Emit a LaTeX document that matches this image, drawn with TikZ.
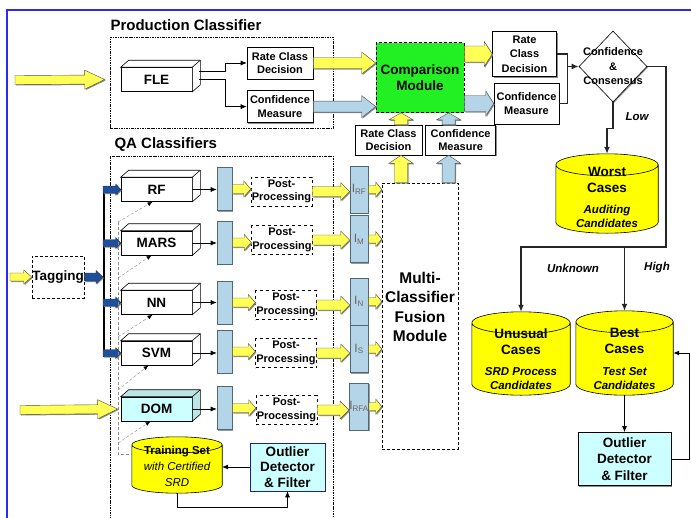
\documentclass[tikz,border=0pt]{standalone}
\usepackage{fontspec}
\setmainfont{Liberation Sans}
\usetikzlibrary{arrows.meta, shapes.geometric, positioning, calc, shadows, backgrounds}
\definecolor{fatyellow}{HTML}{FFFF55}
\definecolor{drumyellow}{HTML}{FFFF00}
\definecolor{paleblue}{HTML}{B4D5E7}
\definecolor{barline}{HTML}{4E6878}
\definecolor{navy}{HTML}{1C4F9C}
\definecolor{modgreen}{HTML}{22F022}
\definecolor{palecyan}{HTML}{CCFFFF}
\definecolor{frameblue}{HTML}{2B2BF0}
\newcommand{\lblfnt}{\fontsize{11}{13.5}\selectfont\bfseries}
\newcommand{\bigfnt}{\fontsize{13.5}{16}\selectfont\bfseries}
\newcommand{\titlefnt}{\fontsize{15}{18}\selectfont\bfseries}
\newcommand{\fusfnt}{\fontsize{15.5}{19.5}\selectfont\bfseries}
\newcommand{\itfnt}{\fontsize{11.5}{14.5}\selectfont\bfseries\itshape}
\tikzset{
    box/.style={
        draw, fill=white, line width=0.6pt, align=center, inner sep=0pt, font=\lblfnt,
        drop shadow={shadow xshift=1.2pt, shadow yshift=-1.2pt, fill=black!45, opacity=1}
    },
    cubebox/.style={
        draw, fill=white, line width=0.6pt, inner sep=0pt, font=\bigfnt,
        minimum width=71pt, minimum height=24pt
    },
    barbox/.style={
        draw=barline, fill=paleblue, line width=0.6pt, inner sep=0pt,
        minimum width=15pt, minimum height=43pt,
        drop shadow={shadow xshift=1pt, shadow yshift=-1pt, fill=black!40, opacity=1}
    },
    ibox/.style={
        barbox, minimum width=18pt, minimum height=47pt,
        font=\fontsize{12}{14}\selectfont, text=black!60
    },
    ppbox/.style={
        draw, dashed, line width=0.5pt, align=center, inner sep=0pt, font=\lblfnt,
        minimum width=61pt, minimum height=29pt
    },
    modbox/.style={
        draw, densely dashed, line width=0.6pt, align=center, inner sep=0pt
    },
    groupbox/.style={
        draw, line width=0.9pt, dash pattern=on 2.5pt off 1pt on 0.8pt off 1pt
    },
    drumbox/.style={inner sep=0pt},
    yarrow/.style={
        fill=fatyellow, draw=black!70, line width=0.4pt,
        drop shadow={shadow xshift=1pt, shadow yshift=-1pt, fill=black!45, opacity=1}
    },
    barrow/.style={yarrow, fill=paleblue},
    narrow/.style={yarrow, fill=navy, draw=black!80},
    line/.style={-{Latex[length=6pt, width=5pt]}, line width=0.6pt},
    heavy/.style={line width=1.4pt, draw=black!85},
    feedback/.style={draw=black!45, densely dashed, line width=0.4pt},
    fbarrow/.style={-{Latex[length=5pt, width=4pt, black]}},
    frameline/.style={draw=frameblue, line width=1.6pt}
}
\newcommand{\fatarrow}[6][yarrow]{%
    \coordinate (fatbase) at ($(#3)!#6!(#2)$);
    \path[#1] ($(#2)!#4!90:(#3)$) -- ($(fatbase)!#4!270:(#2)$) -- ($(fatbase)!#5!270:(#2)$) -- (#3)
        -- ($(fatbase)!#5!90:(#2)$) -- ($(fatbase)!#4!90:(#2)$) -- ($(#2)!#4!270:(#3)$) -- cycle;}
\newcommand{\cubeface}[2][white]{%
    \draw[fill=#1, line width=0.6pt] (#2.north west) -- ++(8pt,7pt) -- ($(#2.north east)+(8pt,7pt)$)
        -- ($(#2.south east)+(8pt,7pt)$) -- (#2.south east) -- (#2.north east) -- cycle;
    \draw[line width=0.6pt] (#2.north east) -- ++(8pt,7pt);}
\newcommand{\drawdrum}[3]{%
    \filldraw[fill=#2, line width=0.6pt] let \p1=(#1.north west), \p2=(#1.south east), \n1={(\x2-\x1)/2} in
        (\x1,\y1-#3) -- (\x1,\y2+#3) arc[start angle=180, end angle=360, x radius={\n1*1pt}, y radius=#3]
        -- (\x2,\y1-#3) arc[start angle=0, end angle=180, x radius={\n1*1pt}, y radius=#3] -- cycle
        (\x1,\y1-#3) arc[start angle=180, end angle=360, x radius={\n1*1pt}, y radius=#3];}

\begin{document}
\begin{tikzpicture}[x=1pt, y=-1pt]
    \useasboundingbox (0,0) rectangle (691,517);
    \draw[frameline] (7,530) -- (7,10) -- (700,10);

    \node[anchor=west, font=\titlefnt] (prodtitle) at (107,25) {Production Classifier};
    \node[anchor=west, font=\titlefnt] (qatitle) at (111,145) {QA Classifiers};
    \node[groupbox, minimum width=223pt, minimum height=91pt] (prodbox) at (221.5,82.5) {};
    \node[groupbox, minimum width=223pt, minimum height=380pt] (qabox) at (221.5,346) {};

    % production classifier
    \node[cubebox] (fle) at (156.5,79.5) {FLE};
    \cubeface{fle}
    \node[box, minimum width=66pt, minimum height=32pt] (prd) at (280,63) {Rate Class\\Decision};
    \node[box, minimum width=66pt, minimum height=32pt, below=11pt of prd] (pcm) {Confidence\\Measure};
    \coordinate (fleA) at ($(fle.east)+(7pt,8pt)$);
    \coordinate (fleB) at ($(fle.east)+(7pt,0pt)$);
    \draw[line] (fleA) -- ++(26pt,0) |- (prd.west);
    \draw[line] (fleB) -- ++(26pt,0) |- (pcm.west);
    \coordinate (src1) at (15,80);
    \coordinate (in1) at ($(fle.west)+(-16pt,0)$);
    \fatarrow{src1}{in1}{4.5pt}{9.5pt}{20pt}

    \node[modbox, fill=modgreen, minimum width=88pt, minimum height=70pt, font=\bigfnt] (cmp) at (420,77.5) {Comparison\\Module};
    \fatarrow{prd.east}{cmp.west |- prd.east}{5.5pt}{11pt}{14pt}
    \fatarrow[barrow]{pcm.east}{cmp.west |- pcm.east}{5.5pt}{11pt}{14pt}

    \node[box, minimum width=64pt, minimum height=45pt, font=\fontsize{11}{14.5}\selectfont\bfseries] (rrd) at (524.5,54) {Rate\\Class\\Decision};
    \node[box, minimum width=65pt, minimum height=41pt] (rcm) at (526.5,103.5) {Confidence\\Measure};
    \fatarrow{cmp.east |- rrd.west}{rrd.west}{8pt}{12.5pt}{8pt}
    \fatarrow[barrow]{cmp.east |- rcm.west}{rcm.west}{8pt}{12.5pt}{8pt}

    \node[diamond, draw, fill=white, line width=0.6pt, minimum width=68pt, minimum height=71pt, inner sep=0pt,
        drop shadow={shadow xshift=1pt, shadow yshift=-1pt, fill=black!45, opacity=1}] (cc) at (613,66.5) {};
    \node[font=\fontsize{11}{14.5}\selectfont\bfseries, align=center] (cctext) at (cc) {Confidence\\\&\\Consensus};
    \coordinate (ccin) at ($(cc.west)+(-11pt,0)$);
    \draw[heavy] (rrd.east) -| (ccin);
    \draw[heavy] (rcm.east) -| (ccin);
    \draw[heavy, -{Latex[length=7pt, width=6pt]}] (ccin) -- (cc.west);

    % result data sets
    \node[drumbox, minimum width=102pt, minimum height=79pt] (worst) at (607,193.5) {};
    \node[font=\bigfnt, align=center, below=10pt of worst.north] (worsttitle) {Worst\\Cases};
    \node[font=\itfnt, align=center, above=2pt of worst.south] (worstsub) {Auditing\\Candidates};
    \node[drumbox, minimum width=98pt, minimum height=83pt] (unus) at (521,353.5) {};
    \node[font=\bigfnt, align=center, below=13pt of unus.north] (unustitle) {Unusual\\Cases};
    \node[font=\itfnt, align=center, above=2pt of unus.south] (unussub) {SRD Process\\Candidates};
    \node[drumbox, minimum width=97pt, minimum height=84pt] (best) at (624.5,353) {};
    \node[font=\bigfnt, align=center, below=14pt of best.north] (besttitle) {Best\\Cases};
    \node[font=\itfnt, align=center, above=2pt of best.south] (bestsub) {Test Set\\Candidates};

    \draw[heavy, -{Latex[length=7pt, width=6pt]}] (cc.south) -- ++(0,-26pt) -| (worst.north);
    \coordinate (split) at (666,247);
    \draw[heavy, -{Latex[length=7pt, width=6pt]}] (cc.east) -| (split) -| (unus.north);
    \draw[heavy, -{Latex[length=7pt, width=6pt]}] (best.north |- split) -- (best.north);
    \node[font=\itfnt] (lowlbl) at (637,117) {Low};
    \node[font=\itfnt] (unknownlbl) at (573,268) {Unknown};
    \node[font=\itfnt] (highlbl) at (657,268) {High};

    \node[box, fill=palecyan, minimum width=93pt, minimum height=53pt, font=\fontsize{13.5}{16.5}\selectfont\bfseries,
        below=37pt of best] (orr) {Outlier\\Detector\\\& Filter};
    \draw[line, line width=1pt] (best.south) -- (orr.north);
    \draw[line, line width=1pt] (orr.east) -- ++(18pt,0) |- (best.east);

    % fusion
    \node[box, minimum width=67pt, minimum height=30pt] (frd) at (388.5,140) {Rate Class\\Decision};
    \node[box, minimum width=70pt, minimum height=30pt, right=3pt of frd] (fcm) {Confidence\\Measure};
    \node[modbox, minimum width=76pt, minimum height=266pt] (fus) at (420,316) {};
    \node[font=\fusfnt, align=center] (fustext) at ($(fus.center)+(0,9pt)$) {Multi-\\Classifier\\Fusion\\Module};
    \coordinate (u1) at ($(frd.south)+(12.5pt,0)$);
    \coordinate (u2) at ($(frd.north)+(12.5pt,0)$);
    \coordinate (u3) at ($(fcm.south)+(-12pt,0)$);
    \coordinate (u4) at ($(fcm.north)+(-12pt,0)$);
    \fatarrow{u1 |- fus.north}{u1}{6.5pt}{12pt}{8pt}
    \fatarrow[barrow]{u3 |- fus.north}{u3}{6.5pt}{12pt}{8pt}
    \fatarrow{u2}{u2 |- cmp.south}{6.5pt}{12pt}{7pt}
    \fatarrow[barrow]{u4}{u4 |- cmp.south}{6.5pt}{12pt}{7pt}

    % QA classifiers
    \node[modbox, minimum width=52pt, minimum height=42pt, font=\bigfnt] (tag) at (58,277) {Tagging};
    \coordinate (src3) at (10,277);
    \fatarrow{src3}{tag.west}{4pt}{7pt}{8pt}
    \coordinate (bus0) at (103,277);
    \draw[line width=1.6pt] (104,189.5) -- (104,357);
    \fatarrow[narrow]{tag.east}{bus0}{4pt}{6.5pt}{7pt}

    \node[cubebox] (rf) at (156.5,189.5) {RF};
    \cubeface{rf}
    \node[cubebox] (mars) at (156.5,243) {MARS};
    \cubeface{mars}
    \node[cubebox] (nn) at (156.5,302.5) {NN};
    \cubeface{nn}
    \node[cubebox] (svm) at (156.5,353) {SVM};
    \cubeface{svm}
    \node[cubebox, fill=palecyan] (dom) at (156.5,409) {DOM};
    \cubeface[palecyan!80!gray]{dom}

    \fatarrow[narrow]{rf.west -| bus0}{rf.west}{3.5pt}{5.5pt}{5pt}
    \fatarrow[narrow]{mars.west -| bus0}{mars.west}{3.5pt}{5.5pt}{5pt}
    \fatarrow[narrow]{nn.west -| bus0}{nn.west}{3.5pt}{5.5pt}{5pt}
    \fatarrow[narrow]{svm.west -| bus0}{svm.west}{3.5pt}{5.5pt}{5pt}
    \coordinate (src2) at (20,410);
    \coordinate (in2) at ($(dom.west)+(-3pt,0)$);
    \fatarrow{src2}{in2}{4.5pt}{9.5pt}{20pt}

    \node[barbox] (rfbar) at (224.5,189) {};
    \node[barbox] (marsbar) at (224.5,242.5) {};
    \node[barbox] (nnbar) at (224.5,302.5) {};
    \node[barbox] (svmbar) at (224.5,351.5) {};
    \node[barbox] (dombar) at (224.5,408) {};
    \draw[line] (rf.east) -- (rf.east -| rfbar.west);
    \draw[line] (mars.east) -- (mars.east -| marsbar.west);
    \draw[line] (nn.east) -- (nn.east -| nnbar.west);
    \draw[line] (svm.east) -- (svm.east -| svmbar.west);
    \draw[line] (dom.east) -- (dom.east -| dombar.west);

    \node[ppbox] (rfpp) at (281.5,191.5) {Post-\\Processing};
    \node[ppbox] (marspp) at (282,240) {Post-\\Processing};
    \node[ppbox] (nnpp) at (286,305) {Post-\\Processing};
    \node[ppbox] (svmpp) at (286,353) {Post-\\Processing};
    \node[ppbox] (dompp) at (286.5,410) {Post-\\Processing};
    \fatarrow{rfbar.east}{rfbar.east -| rfpp.west}{4.5pt}{8pt}{7pt}
    \fatarrow{marsbar.east}{marsbar.east -| marspp.west}{4.5pt}{8pt}{7pt}
    \fatarrow{nnbar.east}{nnbar.east -| nnpp.west}{4.5pt}{8pt}{7pt}
    \fatarrow{svmbar.east}{svmbar.east -| svmpp.west}{4.5pt}{8pt}{7pt}
    \fatarrow{dombar.east}{dombar.east -| dompp.west}{4.5pt}{8pt}{7pt}

    \node[ibox] (irf) at (359,189.5) {I\textsubscript{RF}};
    \node[ibox] (im) at (359,239) {I\textsubscript{M}};
    \node[ibox] (in) at (359,301.5) {I\textsubscript{N}};
    \node[ibox] (is) at (359,349) {I\textsubscript{S}};
    \node[ibox] (irfa) at (359,406.5) {I\textsubscript{RFA}};
    \fatarrow{rfpp.east}{irf.west |- rfpp.east}{5pt}{9pt}{9pt}
    \fatarrow{marspp.east}{im.west |- marspp.east}{5pt}{9pt}{9pt}
    \fatarrow{nnpp.east}{in.west |- nnpp.east}{5pt}{9pt}{9pt}
    \fatarrow{svmpp.east}{is.west |- svmpp.east}{5pt}{9pt}{9pt}
    \fatarrow{dompp.east}{irfa.west |- dompp.east}{5pt}{9pt}{9pt}
    \fatarrow{irf.east}{irf.east -| fus.west}{4pt}{7.5pt}{6pt}
    \fatarrow{im.east}{im.east -| fus.west}{4pt}{7.5pt}{6pt}
    \fatarrow{in.east}{in.east -| fus.west}{4pt}{7.5pt}{6pt}
    \fatarrow{is.east}{is.east -| fus.west}{4pt}{7.5pt}{6pt}
    \fatarrow{irfa.east}{irfa.east -| fus.west}{4pt}{7.5pt}{6pt}

    % training set loop
    \node[drumbox, minimum width=90pt, minimum height=56pt] (train) at (177,465) {};
    \node[font=\fontsize{11.5}{16}\selectfont\bfseries, align=center, below=6pt of train.north] (traintext)
        {Training Set\\{\mdseries\itshape with Certified}\\{\mdseries\itshape SRD}};
    \node[box, draw=frameblue!70!black, fill=palecyan, minimum width=75pt, minimum height=48pt,
        font=\fontsize{13.5}{15.5}\selectfont\bfseries] (orl) at (287.5,467) {Outlier\\Detector\\\& Filter};
    \draw[line] (orl.west) -- (orl.west -| train.east);
    \draw[line] (train.south) -- ++(0,-14pt) -| (orl.south);

    \coordinate (fb1) at (118,222);
    \coordinate (fb2) at (118,278);
    \coordinate (fb3) at (118,337);
    \coordinate (fb4) at (118,390);
    \coordinate (fb5) at (118,443);
    \coordinate (fbbot) at (118,454);
    \draw[feedback] (fb1) -- (fbbot) -- (fbbot -| train.west);
    \draw[feedback, fbarrow] (fb1) -- ($(rf.south)+(-4pt,0)$);
    \draw[feedback, fbarrow] (fb2) -- ($(mars.south)+(-5pt,0)$);
    \draw[feedback, fbarrow] (fb3) -- ($(nn.south)+(-4pt,0)$);
    \draw[feedback, fbarrow] (fb4) -- ($(svm.south)+(-8pt,0)$);
    \draw[feedback, fbarrow] (fb5) -- ($(dom.south)+(-6pt,0)$);

    \begin{scope}[on background layer]
        \drawdrum{worst}{drumyellow}{11pt}
        \drawdrum{unus}{drumyellow}{11pt}
        \drawdrum{best}{drumyellow}{11pt}
        \drawdrum{train}{drumyellow}{8pt}
    \end{scope}
\end{tikzpicture}
\end{document}
